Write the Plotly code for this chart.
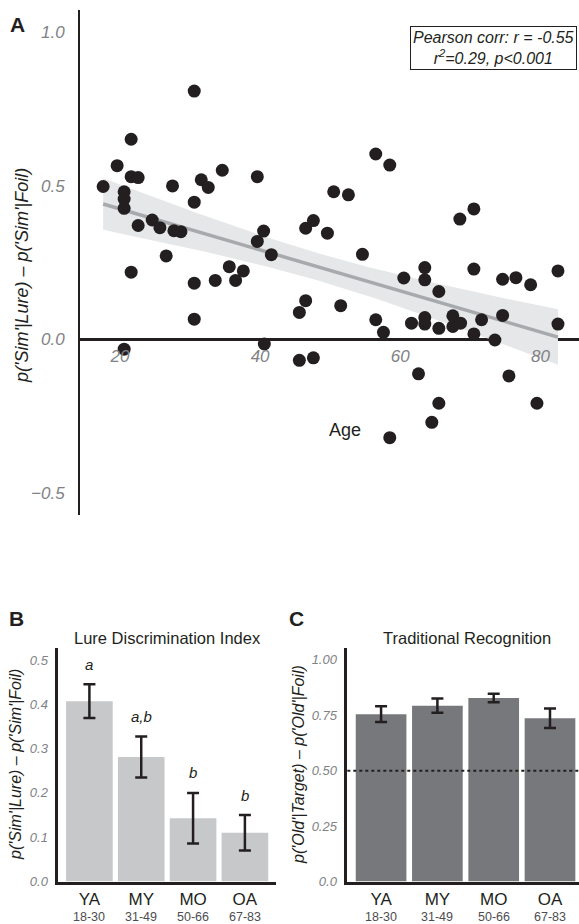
import numpy as np
import plotly.graph_objects as go

W, H = 579, 924          # reference picture size (layout is laid out in these pixels)
FIG_H = 932              # rendered height; the capture squeezes ~932 px into 924

# ---------------- Panel A data ----------------
age = [17.6, 19.6, 20.6, 20.6, 20.6, 20.6, 21.6, 21.6, 22.6, 21.6, 22.6, 24.6, 25.7, 26.6,
       27.5, 27.7, 28.7, 30.6, 30.6, 30.6, 30.6, 31.6, 32.6, 33.6, 34.6, 35.6, 36.5, 37.6,
       39.6, 39.6, 40.5, 40.6, 41.6, 45.6, 45.6, 46.5, 46.5, 47.6, 47.6, 49.6, 50.5, 51.5,
       52.6, 54.6, 56.5, 56.5, 57.6, 58.5, 58.5, 60.5, 61.6, 62.6, 63.5, 63.5, 63.5, 63.5,
       64.5, 65.5, 65.5, 65.5, 67.5, 67.5, 68.5, 68.6, 70.5, 70.5, 70.5, 71.6, 73.5, 74.6,
       74.6, 75.5, 76.5, 78.6, 79.5, 82.5, 82.5]
ldi = [0.498, 0.566, 0.481, 0.457, 0.427, -0.032, 0.652, 0.530, 0.527, 0.219, 0.371, 0.389,
       0.364, 0.272, 0.500, 0.354, 0.351, 0.809, 0.447, 0.183, 0.066, 0.520, 0.495, 0.192,
       0.551, 0.237, 0.192, 0.223, 0.530, 0.319, 0.353, -0.015, 0.276, 0.088, -0.068, 0.126,
       0.362, 0.387, -0.060, 0.346, 0.481, 0.110, 0.471, 0.277, 0.604, 0.064, 0.023, 0.568,
       -0.320, 0.200, 0.053, -0.112, 0.234, 0.194, 0.071, 0.050, -0.270, 0.156, 0.036, -0.208,
       0.077, 0.042, 0.392, 0.053, 0.425, 0.229, 0.018, 0.064, -0.002, 0.196, 0.078, -0.119,
       0.201, 0.178, -0.208, 0.223, 0.050]
age_ticks = [20, 40, 60, 80]
a_yticks = [-0.5, 0.0, 0.5, 1.0]
a_yticktext = ["\u22120.5", "0.0", "0.5", "1.0"]

# ---------------- Panel B / C data ----------------
groups = ["YA", "MY", "MO", "OA"]
group_ages = ["18-30", "31-49", "50-66", "67-83"]
ldi_mean = [0.407, 0.281, 0.143, 0.110]
ldi_err = [0.038, 0.046, 0.057, 0.040]
ldi_letters = ["a", "a,b", "b", "b"]
rec_mean = [0.755, 0.793, 0.828, 0.736]
rec_err = [0.036, 0.032, 0.019, 0.044]
b_yticks = [0.0, 0.1, 0.2, 0.3, 0.4, 0.5]
c_yticks = [0.0, 0.25, 0.5, 0.75, 1.0]
c_yticktext = ["0.0", "0.25", "0.50", "0.75", "1.00"]

INK = "#231f20"
TICKGREY = "#808285"
FONT = "Liberation Sans"

# regression fit + 95% CI from data
x = np.array(age); y = np.array(ldi)
n = len(x)
b1, b0 = np.polyfit(x, y, 1)
xs = np.linspace(x.min(), x.max(), 100)
yhat = b0 + b1 * xs
resid = y - (b0 + b1 * x)
s = np.sqrt(np.sum(resid ** 2) / (n - 2))
sxx = np.sum((x - x.mean()) ** 2)
se = s * np.sqrt(1.0 / n + (xs - x.mean()) ** 2 / sxx)
tcrit = 1.992
upper = yhat + tcrit * se
lower = yhat - tcrit * se


def px_x(p):
    return p / W


def px_y(p):
    return 1 - p / H


fig = go.Figure()

# CI band
fig.add_trace(go.Scatter(x=np.concatenate([xs, xs[::-1]]), y=np.concatenate([upper, lower[::-1]]),
                         fill="toself", fillcolor="#e6e7e8", line=dict(width=0), mode="lines",
                         hoverinfo="skip", showlegend=False, xaxis="x", yaxis="y"))
fig.add_trace(go.Scatter(x=xs, y=yhat, mode="lines", line=dict(color="#a7a9ac", width=3.5),
                         showlegend=False, xaxis="x", yaxis="y"))
fig.add_trace(go.Scatter(x=age, y=ldi, mode="markers",
                         marker=dict(size=13, color=INK, line=dict(width=0)),
                         showlegend=False, xaxis="x", yaxis="y"))

# Panel B bars
fig.add_trace(go.Bar(x=groups, y=ldi_mean, marker=dict(color="#c7c8ca", line=dict(width=0)),
                     error_y=dict(type="data", array=ldi_err, color=INK, thickness=2.5, width=6),
                     showlegend=False, xaxis="x2", yaxis="y2"))
# Panel C bars
fig.add_trace(go.Bar(x=groups, y=rec_mean, marker=dict(color="#77787b", line=dict(width=0)),
                     error_y=dict(type="data", array=rec_err, color=INK, thickness=2.5, width=6),
                     showlegend=False, xaxis="x3", yaxis="y3"))

tickfont_it = dict(family=FONT, size=17, color=TICKGREY, style="italic")
small_tickfont = dict(family=FONT, size=13, color=TICKGREY, style="italic")

fig.update_layout(
    width=W, height=FIG_H,
    margin=dict(l=0, r=0, t=0, b=0),
    paper_bgcolor="white", plot_bgcolor="white",
    bargap=0.1,
    font=dict(family=FONT, color=INK),
    xaxis=dict(domain=[px_x(80), 1.0], range=[14.3, 85.5], anchor="free",
               position=px_y(339.5), showline=False, showgrid=False, zeroline=False,
               tickvals=age_ticks, ticks="", ticklabelstandoff=4, tickfont=tickfont_it),
    yaxis=dict(domain=[px_y(515), px_y(10)], range=[-0.572, 1.073], anchor="x",
               showline=True, linecolor=INK, linewidth=2, showgrid=False,
               zeroline=True, zerolinecolor=INK, zerolinewidth=2.5,
               tickvals=a_yticks, ticktext=a_yticktext, ticks="", ticklabelstandoff=10,
               tickfont=tickfont_it),
    xaxis2=dict(domain=[px_x(58.3), px_x(276)], range=[-0.6, 3.6], anchor="y2",
                showline=True, linecolor=INK, linewidth=2.5, showgrid=False, ticks="",
                ticklabelstandoff=0, tickfont=dict(family=FONT, size=17, color=INK)),
    yaxis2=dict(domain=[px_y(881.5), px_y(648)], range=[0, 0.527], anchor="x2",
                showline=True, linecolor=INK, linewidth=2.5, showgrid=False, zeroline=False,
                tickvals=b_yticks, ticktext=["%.1f" % v for v in b_yticks], ticks="",
                ticklabelstandoff=5, tickfont=small_tickfont),
    xaxis3=dict(domain=[px_x(347.3), 1.0], range=[-0.6, 3.515], anchor="y3",
                showline=True, linecolor=INK, linewidth=2.5, showgrid=False, ticks="",
                ticklabelstandoff=0, tickfont=dict(family=FONT, size=17, color=INK)),
    yaxis3=dict(domain=[px_y(881.5), px_y(648.3)], range=[0, 1.052], anchor="x3",
                showline=True, linecolor=INK, linewidth=2.5, showgrid=False, zeroline=False,
                tickvals=c_yticks, ticktext=c_yticktext, ticks="",
                ticklabelstandoff=5, tickfont=small_tickfont),
)

# dotted chance line in C
fig.add_shape(type="line", xref="x3 domain", yref="y3", x0=0, x1=1, y0=0.5, y1=0.5,
              line=dict(color=INK, width=2, dash="dot"))

ann = []
# Panel letters
for letter, (cx, cy) in zip(["A", "B", "C"], [(17, 25), (16, 618), (296, 618)]):
    ann.append(dict(text="<b>%s</b>" % letter, x=px_x(cx), y=px_y(cy), xref="paper", yref="paper",
                    showarrow=False, xanchor="center", yanchor="middle",
                    font=dict(family=FONT, size=21, color=INK)))
# Axis titles
ann.append(dict(text="p('Sim'|Lure) \u2013 p('Sim'|Foil)", x=px_x(22), y=px_y(276), xref="paper",
                yref="paper", showarrow=False, textangle=-90, xanchor="center", yanchor="middle",
                font=dict(family=FONT, size=18, color=INK, style="italic")))
ann.append(dict(text="Age", x=px_x(345), y=px_y(430), xref="paper", yref="paper", showarrow=False,
                xanchor="center", yanchor="middle", font=dict(family=FONT, size=18, color=INK)))
ann.append(dict(text="p('Sim'|Lure) \u2013 p('Sim'|Foil)", x=px_x(15), y=px_y(765), xref="paper",
                yref="paper", showarrow=False, textangle=-90, xanchor="center", yanchor="middle",
                font=dict(family=FONT, size=16, color=INK, style="italic")))
ann.append(dict(text="p('Old'|Target) \u2013 p('Old'|Foil)", x=px_x(298), y=px_y(765), xref="paper",
                yref="paper", showarrow=False, textangle=-90, xanchor="center", yanchor="middle",
                font=dict(family=FONT, size=16, color=INK, style="italic")))
# Panel titles
ann.append(dict(text="Lure Discrimination Index", x=px_x(167), y=px_y(638), xref="paper",
                yref="paper", showarrow=False, xanchor="center", yanchor="middle",
                font=dict(family=FONT, size=16.5, color=INK)))
ann.append(dict(text="Traditional Recognition", x=px_x(467), y=px_y(638), xref="paper",
                yref="paper", showarrow=False, xanchor="center", yanchor="middle",
                font=dict(family=FONT, size=16.5, color=INK)))
# Correlation box
ann.append(dict(text="Pearson corr: r = -0.55<br>r<sup>2</sup>=0.29, p&lt;0.001", x=px_x(493),
                y=px_y(47.5), xref="paper", yref="paper", showarrow=False, xanchor="center",
                yanchor="middle", align="center", bordercolor=INK, borderwidth=1, borderpad=2,
                bgcolor="white", font=dict(family=FONT, size=16, color=INK, style="italic")))
# Age ranges under group labels
for xa in ["x2", "x3"]:
    for g, r in zip(groups, group_ages):
        ann.append(dict(text=r, x=g, y=px_y(917), xref=xa, yref="paper", showarrow=False,
                        xanchor="center", yanchor="middle",
                        font=dict(family=FONT, size=12.5, color="#4d4d4f")))
# significance letters
for g, m, e, t in zip(groups, ldi_mean, ldi_err, ldi_letters):
    ann.append(dict(text=t, x=g, y=m + e, xref="x2", yref="y2", showarrow=False,
                    xanchor="center", yanchor="middle", yshift=20,
                    font=dict(family=FONT, size=15, color=INK, style="italic")))

fig.update_layout(annotations=ann)
# no default 8px body margin around the figure
page_css = ("var d=document.documentElement,b=document.body;"
            "d.style.margin='0';d.style.padding='0';d.style.overflow='hidden';"
            "b.style.margin='0';b.style.padding='0';b.style.overflow='hidden';")
fig.write_html("out.html", config={"displayModeBar": False}, post_script=page_css)
